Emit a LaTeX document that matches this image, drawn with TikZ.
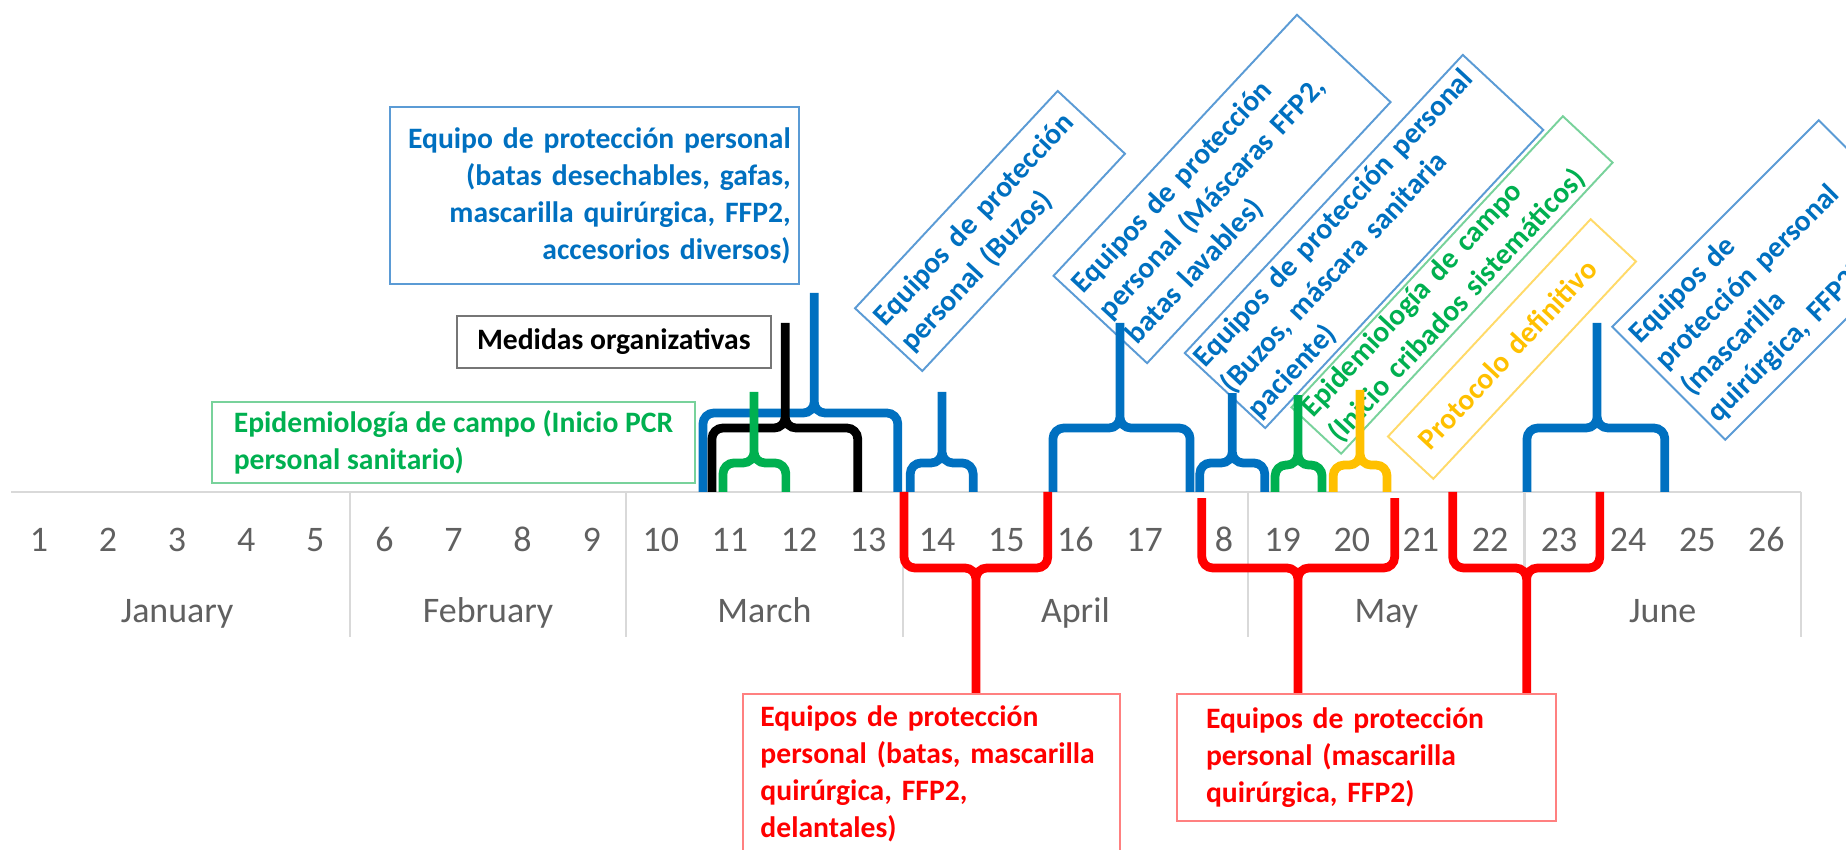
\documentclass[tikz,border=0pt]{standalone}
\usepackage{fontspec}
\setmainfont{Carlito}
\definecolor{excel blue}{RGB}{0,112,192}
\definecolor{excel light blue}{RGB}{91,155,213}
\definecolor{excel green}{RGB}{0,176,80}
\definecolor{excel light green}{RGB}{120,210,155}
\definecolor{excel yellow}{RGB}{255,192,0}
\definecolor{excel light yellow}{RGB}{255,218,105}
\definecolor{excel red}{RGB}{255,0,0}
\definecolor{excel light red}{RGB}{255,128,128}
\definecolor{axis gray}{RGB}{217,217,217}
\definecolor{label gray}{RGB}{96,96,96}
\definecolor{frame gray}{RGB}{118,118,118}

\begin{document}
\begin{tikzpicture}[
	brace line/.style={line width=3.6pt, rounded corners=4.5pt},
	grid line/.style={draw=axis gray, line width=0.9pt},
	week label/.style={text=label gray, anchor=base, font=\fontsize{14.8}{17}\selectfont},
	tag/.style={draw, line width=0.8pt, inner sep=1pt, align=left, font=\fontsize{12.2}{15.2}\selectfont\bfseries},
	blue tag/.style={tag, draw=excel light blue, text=excel blue},
	green tag/.style={tag, draw=excel light green, text=excel green},
	yellow tag/.style={tag, draw=excel light yellow, text=excel yellow},
	red tag/.style={tag, draw=excel light red, text=excel red, anchor=north west, inner ysep=5pt},
	black tag/.style={tag, draw=frame gray, text=black},
	slanted/.style={rotate=47, inner xsep=0.1cm},
]
	\useasboundingbox (0.437,-5.18) rectangle (27.152,7.12);

	\draw[grid line] (0.6,0) -- (26.5,0);
	\foreach \x in {5.5,9.5,13.5,18.5,22.5,26.5}
		\draw[grid line] (\x,0) -- (\x,-2.1);

	\foreach \w in {1,...,26}{
		\ifnum\w=18 \else \node[week label] (w\w) at (\w,-0.868) {\w}; \fi
	}
	\node[week label] (w18) at (18.15,-0.868) {8};

	\node[week label] (jan) at (3,-1.896) {January};
	\node[week label] (feb) at (7.5,-1.896) {February};
	\node[week label] (mar) at (11.5,-1.896) {March};
	\node[week label] (apr) at (16,-1.896) {April};
	\node[week label] (may) at (20.5,-1.896) {May};
	\node[week label] (jun) at (24.5,-1.896) {June};

	\node[blue tag, align=right, text width=5.68cm, inner xsep=0.12cm, minimum height=2.56cm] (epp) at (9.04,4.29) {Equipo de protección personal\\(batas desechables, gafas,\\mascarilla quirúrgica, FFP2,\\accesorios diversos)};
	\node[black tag, minimum width=4.545cm, minimum height=0.752cm] (medidas) at (9.32,2.171) {Medidas organizativas};
	\node[green tag, minimum width=6.99cm, minimum height=1.172cm] (pcr) at (7.0,0.716) {Epidemiología de campo (Inicio PCR\\personal sanitario)};

	\node[blue tag, slanted, text width=4.1cm, minimum height=1.331cm] (buzos) at (14.764,3.777) {Equipos de protección\\personal (Buzos)};
	\node[blue tag, slanted, text width=4.966cm, minimum height=1.852cm] (mascaras) at (18.122,4.385) {Equipos de protección\\personal (Máscaras FFP2,\\batas lavables)};
	\node[blue tag, slanted, inner xsep=0.04cm, text width=5.82cm, minimum height=1.592cm] (paciente) at (20.177,3.625) {Equipos de protección personal\\(Buzos, máscara sanitaria\\paciente)};
	\node[green tag, slanted, text width=5.56cm, minimum height=0.984cm] (cribados) at (21.45,2.996) {Epidemiología de campo\\(Inicio cribados sistemáticos)};
	\node[yellow tag, slanted, inner xsep=0.27cm, text width=3.76cm, minimum height=0.897cm] (protocolo) at (22.318,2.069) {Protocolo definitivo};
	\node[blue tag, slanted, rotate=-2, text width=4.026cm, minimum height=2.315cm] (quirurgica) at (26.081,3.068) {Equipos de\\protección personal\\(mascarilla\\quirúrgica, FFP2)};

	\node[red tag, text width=4.95cm, inner xsep=0.253cm, text depth=2.6cm] (rojo1) at (11.175,-2.909) {Equipos de protección\\personal (batas, mascarilla\\quirúrgica, FFP2,\\delantales)};
	\node[red tag, text width=4.645cm, inner xsep=0.42cm, minimum height=1.838cm] (rojo2) at (17.456,-2.909) {Equipos de protección\\personal (mascarilla\\quirúrgica, FFP2)};

	\foreach \xl/\xr/\xs/\yb/\yt/\col in {
		10.61/13.43/12.22/1.143/2.88/excel blue,
		10.74/12.85/11.80/0.926/2.446/black,
		10.90/11.81/11.35/0.42/1.447/excel green,
		13.61/14.52/14.07/0.42/1.447/excel blue,
		15.675/17.66/16.645/0.926/2.446/excel blue,
		17.80/18.74/18.27/0.42/1.43/excel blue,
		18.89/19.57/19.22/0.39/1.40/excel green,
		19.73/20.51/20.12/0.39/1.476/excel yellow,
		22.535/24.53/23.55/0.926/2.446/excel blue}
		\draw[brace line, color=\col] (\xl,0) |- (\xs,\yb) -- (\xs,\yt) (\xr,0) |- (\xs,\yb) -- (\xs,\yt);

	\draw[brace line, excel red] (13.52,0) |- (14.56,-1.10) -- (14.56,0 |- rojo1.north) (15.60,0) |- (14.56,-1.10) -- (14.56,0 |- rojo1.north);
	\draw[brace line, excel red] (17.83,-0.09) |- (19.22,-1.10) -- (19.22,0 |- rojo2.north) (20.62,-0.09) |- (19.22,-1.10) -- (19.22,0 |- rojo2.north);
	\draw[brace line, excel red] (21.46,0) |- (22.53,-1.10) -- (22.53,0 |- rojo2.north) (23.59,0) |- (22.53,-1.10) -- (22.53,0 |- rojo2.north);
\end{tikzpicture}
\end{document}
